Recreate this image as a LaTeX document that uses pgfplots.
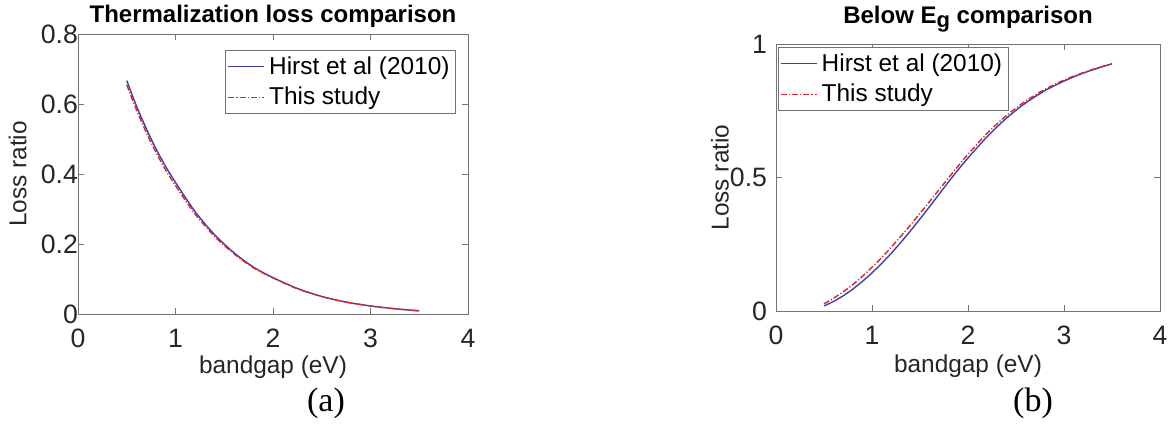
\documentclass[border=0pt]{standalone}
\usepackage{pgfplots}
\pgfplotsset{compat=1.18}
\usepackage{fontspec}
\setmainfont{Liberation Sans}
\newfontfamily\capfont{Liberation Serif}
\definecolor{hirst}{rgb}{0.25,0.25,0.68}
\definecolor{study}{rgb}{0.85,0.15,0.15}
\definecolor{axgray}{rgb}{0.45,0.45,0.45}

\pgfplotstableread{
x y
0.50 0.667
0.60 0.594
0.70 0.530
0.80 0.472
0.90 0.421
1.00 0.376
1.20 0.293
1.40 0.227
1.60 0.175
1.80 0.134
2.00 0.104
2.25 0.073
2.50 0.050
2.75 0.034
3.00 0.023
3.25 0.015
3.50 0.009
}\thermHirst

\pgfplotstableread{
x y
0.50 0.655
0.60 0.583
0.70 0.519
0.80 0.462
0.90 0.411
1.00 0.367
1.20 0.286
1.40 0.222
1.60 0.172
1.80 0.132
2.00 0.103
2.25 0.072
2.50 0.050
2.75 0.034
3.00 0.023
3.25 0.015
3.50 0.009
}\thermStudy

\pgfplotstableread{
x y
0.50 0.019
0.60 0.036
0.70 0.057
0.80 0.082
0.90 0.111
1.00 0.143
1.10 0.178
1.20 0.216
1.30 0.257
1.40 0.300
1.50 0.345
1.60 0.391
1.70 0.438
1.80 0.485
1.90 0.530
2.00 0.573
2.20 0.653
2.40 0.722
2.60 0.779
2.80 0.825
3.00 0.861
3.20 0.891
3.40 0.915
3.50 0.926
}\belowHirst

\pgfplotstableread{
x y
0.50 0.027
0.60 0.048
0.70 0.072
0.80 0.099
0.90 0.130
1.00 0.164
1.10 0.200
1.20 0.239
1.30 0.280
1.40 0.322
1.50 0.366
1.60 0.410
1.70 0.455
1.80 0.500
1.90 0.544
2.00 0.587
2.20 0.666
2.40 0.732
2.60 0.786
2.80 0.830
3.00 0.865
3.20 0.893
3.40 0.916
3.50 0.926
}\belowStudy

\pgfplotsset{
  mystyle/.style={
    scale only axis,
    xmin=0, xmax=4,
    xtick={0,1,2,3,4},
    tick align=inside,
    axis line style={axgray},
    every tick/.style={axgray},
    major tick length=3pt,
    /pgf/number format/assume math mode=true,
    tick label style={font=\fontsize{13.3}{15}\selectfont, text=black!85},
    xticklabel style={yshift=-4pt},
    label style={font=\fontsize{12.2}{14}\selectfont, text=black!85},
    xlabel={bandgap (eV)},
    ylabel={Loss ratio},
    legend cell align=left,
    legend style={draw=axgray, font=\fontsize{12.2}{14}\selectfont, inner xsep=1pt, inner ysep=1pt, row sep=1pt},
  }
}

\begin{document}
\begin{tikzpicture}
\useasboundingbox (0pt,0pt) rectangle (585pt,212.5pt);

\begin{axis}[mystyle,
  at={(39pt,55.5pt)}, anchor=south west,
  width=195pt, height=140pt,
  ymin=0, ymax=0.8,
  ytick={0,0.2,0.4,0.6,0.8},
  yticklabel style={xshift=3.5pt},
  title={Thermalization loss comparison},
  every axis title/.style={at={(axis description cs:0.5,1)}, anchor=base, yshift=6pt,
    font=\bfseries\fontsize{12}{14}\selectfont},
  xlabel style={at={(axis description cs:0.5,-0.19)}, anchor=center},
  ylabel style={at={(axis description cs:-0.155,0.5)}, anchor=center},
  legend style={at={(axis description cs:0.969,0.943)}, anchor=north east},
]
\addplot[draw=hirst, line width=0.7pt, smooth,
  legend image code/.code={\pgfsetstrokecolor{white}\draw[draw=hirst, line width=0.7pt] (0pt,0pt) -- (18pt,0pt);}]
  table[x=x,y=y] {\thermHirst};
\addlegendentry{Hirst et al (2010)}
\addplot[draw=study, line width=0.7pt, dash pattern=on 3pt off 1pt on 0.6pt off 1pt, smooth,
  legend image code/.code={\pgfsetstrokecolor{white}\draw[draw=study, line width=0.7pt, dash pattern=on 3pt off 1pt on 0.6pt off 1pt] (0pt,0pt) -- (18pt,0pt);}]
  table[x=x,y=y] {\thermStudy};
\addlegendentry{This study}
\end{axis}

\begin{axis}[mystyle,
  at={(388pt,57pt)}, anchor=south west,
  width=192pt, height=133.5pt,
  ymin=0, ymax=1,
  ytick={0,0.5,1},
  yticklabel style={xshift=-1pt},
  title={Below E\raisebox{-0.35ex}{\fontsize{11}{12}\selectfont g} comparison},
  every axis title/.style={at={(axis description cs:0.5,1)}, anchor=base, yshift=10.5pt,
    font=\bfseries\fontsize{12}{14}\selectfont},
  xlabel style={at={(axis description cs:0.5,-0.205)}, anchor=center},
  ylabel style={at={(axis description cs:-0.146,0.5)}, anchor=center},
  legend style={at={(axis description cs:0.005,0.989)}, anchor=north west},
]
\addplot[draw=hirst, line width=0.7pt, smooth,
  legend image code/.code={\pgfsetstrokecolor{white}\draw[draw=hirst, line width=0.7pt] (0pt,0pt) -- (18pt,0pt);}]
  table[x=x,y=y] {\belowHirst};
\addlegendentry{Hirst et al (2010)}
\addplot[draw=study, line width=0.7pt, dash pattern=on 3pt off 1pt on 0.6pt off 1pt, smooth,
  legend image code/.code={\pgfsetstrokecolor{white}\draw[draw=study, line width=0.7pt, dash pattern=on 3pt off 1pt on 0.6pt off 1pt] (0pt,0pt) -- (18pt,0pt);}]
  table[x=x,y=y] {\belowStudy};
\addlegendentry{This study}
\end{axis}

\node[font=\capfont\fontsize{17}{19}\selectfont] at (163pt,11pt) {(a)};
\node[font=\capfont\fontsize{17}{19}\selectfont] at (516.5pt,11pt) {(b)};
\end{tikzpicture}
\end{document}
